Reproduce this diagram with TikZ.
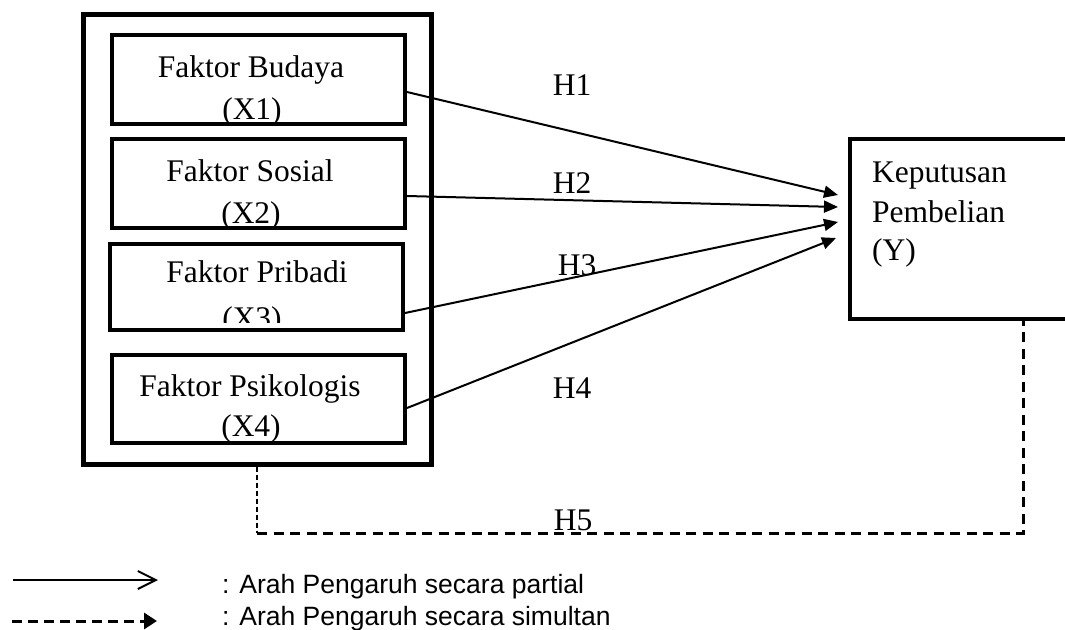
\documentclass[tikz,border=0pt]{standalone}
\usepackage{fontspec}
\setmainfont{Liberation Serif}
\newfontfamily\legendfont{Liberation Sans}
\usetikzlibrary{arrows.meta}
\begin{document}
\begin{tikzpicture}[x=1pt,y=-1pt,
  txt/.style={inner sep=0pt, anchor=base, font=\fontsize{31.5}{38}\selectfont},
  ytxt/.style={inner sep=0pt, anchor=base west, font=\fontsize{31.5}{38}\selectfont},
  hlab/.style={inner sep=0pt, anchor=base, font=\fontsize{31.5}{38}\selectfont},
  legtxt/.style={inner sep=0pt, anchor=base west, font=\legendfont\fontsize{26.5}{30}\selectfont},
  fbox/.style={draw, rectangle, inner sep=0pt, line width=4pt, minimum width=293pt},
  outerbox/.style={draw, rectangle, inner sep=0pt, line width=5pt},
  arr/.style={line width=2pt, -{Triangle[length=14pt,width=12pt]}},
  thindash/.style={line width=1.5pt, dash pattern=on 5pt off 3pt},
  thickdash/.style={line width=3pt, dash pattern=on 10pt off 6.5pt}
]
\useasboundingbox (0,0) rectangle (1065,629);

% texts inside boxes
\node[txt] (t1a) at (251,77) {Faktor Budaya};
\node[txt] (t1b) at (252,119) {(X1)};
\node[txt] (t2a) at (250,181) {Faktor Sosial};
\node[txt] (t2b) at (251,223) {(X2)};
\node[txt] (t3a) at (257,282) {Faktor Pribadi};
\begin{scope}
  \clip (100,250) rectangle (420,322.5);
  \node[txt] (t3b) at (252,328) {(X3)};
\end{scope}
\node[txt] (t4a) at (250,396) {Faktor Psikologis};
\node[txt] (t4b) at (251,436) {(X4)};

% boxes
\node[fbox, minimum height=89pt] (b1) at (258.5,79.5) {};
\node[fbox, minimum height=89pt] (b2) at (258.5,183.5) {};
\node[fbox, minimum height=86pt] (b3) at (256.5,287) {};
\node[fbox, minimum height=88pt] (b4) at (258.5,399) {};
\node[outerbox, minimum width=348pt, minimum height=450pt] (outer) at (257,239) {};

% dependent variable
\node[draw, rectangle, inner sep=0pt, line width=4pt, minimum width=230pt, minimum height=180pt] (Y) at (965,229) {};
\node[ytxt] (y1) at (872,182) {Keputusan};
\node[ytxt] (y2) at (872,222) {Pembelian};
\node[ytxt] (y3) at (872,260) {(Y)};

% partial arrows
\draw[arr] ([yshift=-12.5pt]b1.east) -- ([xshift=-10pt,yshift=34pt]Y.west);
\draw[arr] ([yshift=-12.5pt]b2.east) -- ([xshift=-10pt,yshift=22pt]Y.west);
\draw[arr] ([yshift=-26pt]b3.east) -- ([xshift=-10pt,yshift=7pt]Y.west);
\draw[arr] ([yshift=-9pt]b4.east) -- ([xshift=-12pt,yshift=-9pt]Y.west);

\node[hlab] (h1) at (572,95) {H1};
\node[hlab] (h2) at (572,193) {H2};
\node[hlab] (h3) at (577,275) {H3};
\node[hlab] (h4) at (572,398) {H4};
\node[hlab] (h5) at (573,530) {H5};

% simultaneous path
\coordinate (c1) at (257,533);
\coordinate (c2) at (1023,533);
\draw[thindash] (outer.south) -- (c1);
\draw[thickdash] (c1) -- (c2) -- (c2 |- Y.south);

% legend
\coordinate (la) at (13,580);
\coordinate (lb) at (158,580);
\draw[line width=2pt, -{Straight Barb[length=18pt,width=18pt,line width=2pt]}] (la) -- (lb);
\coordinate (lc) at (12,621);
\coordinate (ld) at (157,621);
\draw[line width=3pt, dash pattern=on 10pt off 6pt, -{Triangle[length=13pt,width=16pt]}] (lc) -- (ld);
\node[legtxt] (l1) at (222,593) {: Arah Pengaruh secara partial};
\node[legtxt] (l2) at (222,625) {: Arah Pengaruh secara simultan};
\end{tikzpicture}
\end{document}
